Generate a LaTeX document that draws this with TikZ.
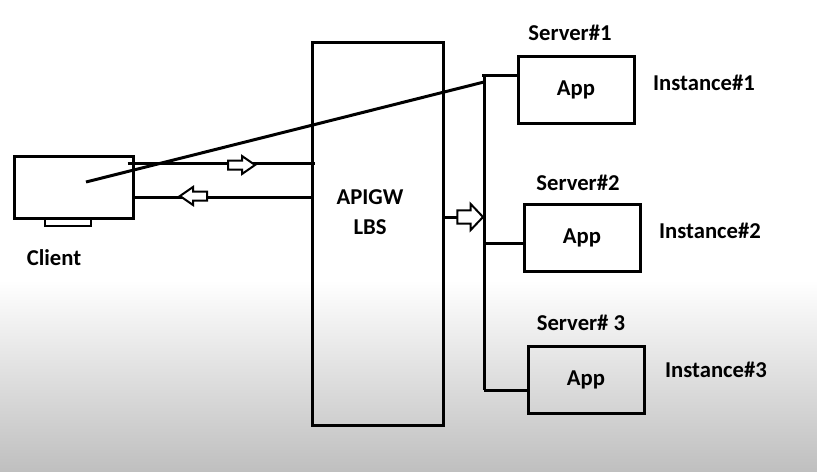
\documentclass[tikz,border=0pt]{standalone}
\usepackage{fontspec}
\setmainfont{Carlito}
\usepackage{tikz}
\usetikzlibrary{calc}

\tikzset{
  wire/.style={line width=2.25pt},
  lbl/.style={inner sep=0.75pt, font=\bfseries\fontsize{17}{22.5}\selectfont, align=center},
  appbox/.style={draw, line width=2.25pt, inner sep=0pt, minimum width=116*0.75pt, minimum height=67*0.75pt, font=\bfseries\fontsize{17}{22.5}\selectfont},
  hollowarrow/.pic={
    \draw[line width=1.5pt, fill=white] (-27,-4.5) -- (-13,-4.5) -- (-13,-9) -- (0,0) -- (-13,9) -- (-13,4.5) -- (-27,4.5) -- cycle;
  }
}

\begin{document}
\begin{tikzpicture}[x=0.75pt,y=0.75pt,yscale=-1,xscale=1]
\useasboundingbox (0,0) rectangle (817,471);

% Background
\fill[white] (0,0) rectangle (817,471);
\shade[top color=white, bottom color=black!25] (0,280) rectangle (817,471);

% Client
\node[draw, line width=2.25pt, inner sep=0pt, minimum width=119*0.75pt, minimum height=62*0.75pt] (client) at (73.5,187) {};
\node[draw, line width=1.5pt, inner sep=0pt, minimum width=46*0.75pt, minimum height=8*0.75pt] (stand) at (68,222) {};
% Gateway
\node[draw, line width=2.25pt, inner sep=0pt, minimum width=131*0.75pt, minimum height=383*0.75pt] (gw) at (377.5,233.5) {};
% Servers
\node[appbox] (app1) at (576,89.5) {App};
\node[appbox] (app2) at (582,237.5) {App};
\node[appbox] (app3) at (586,380) {App};

% Text Node
\node[lbl] (clientlbl) at (54,258) {Client};
\node[lbl] (gwlbl) at (370,212) {APIGW\\LBS};
\node[lbl] (srv1) at (570,33) {Server\#1};
\node[lbl] (srv2) at (578,183) {Server\#2};
\node[lbl] (srv3) at (581,323) {Server\# 3};
\node[lbl] (inst1) at (704,83) {Instance\#1};
\node[lbl] (inst2) at (710,231) {Instance\#2};
\node[lbl] (inst3) at (716,370) {Instance\#3};

% Bus
\coordinate (bustop) at (484,75);
\coordinate (bus2) at (484,243);
\coordinate (busmid) at (484,217);
\coordinate (busbot) at (484,390);
\draw[wire] ($(bustop)+(-2,0)$) -- (app1.west |- bustop);
\draw[wire] (bustop) -- (busbot);
\draw[wire] (bus2) -- (app2.west |- bus2);
\draw[wire] (busbot) -- (app3.west |- busbot);
\draw[wire] (gw.east |- busmid) -- (busmid);

% Client lines
\coordinate (req) at ($(client.north east)+(-7,9)$);
\coordinate (resp) at ($(client.south east)+(0,-22)$);
\draw[wire] (req) -- ($(req -| gw.west)+(4,0)$);
\draw[wire] (resp -| gw.west) -- (resp);
\coordinate (diagA) at (86,182);
\coordinate (diagB) at (484,82);
\draw[wire] (diagA) -- (diagB);

% Hollow arrows
\pic at (255,165) {hollowarrow};
\pic[rotate=180] at (180,196) {hollowarrow};
\pic[xscale=0.95, yscale=1.45] at (483,217) {hollowarrow};

\end{tikzpicture}
\end{document}
